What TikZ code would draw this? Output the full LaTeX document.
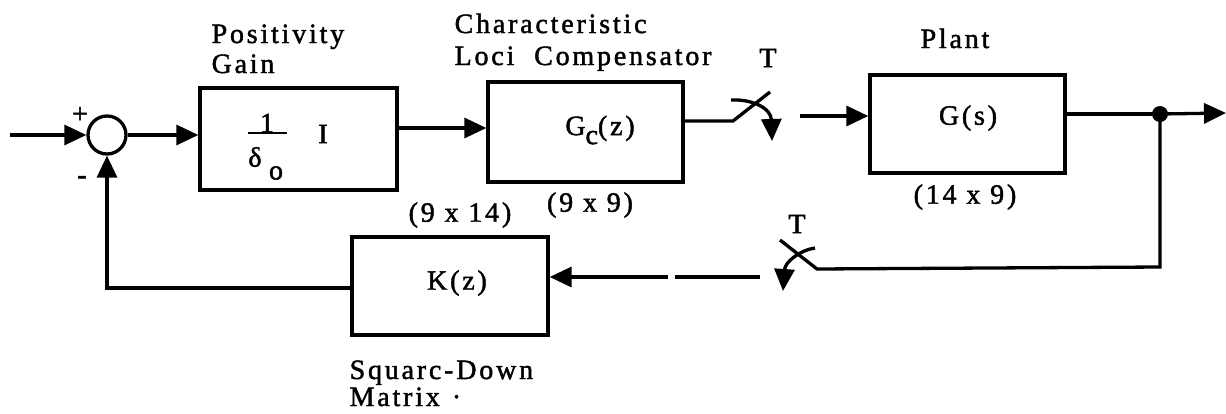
\documentclass[tikz,border=0pt]{standalone}
\usepackage{fontspec}
\setmainfont{Liberation Serif}[LetterSpace=10,FakeBold=1.6]
\usetikzlibrary{arrows.meta}
\begin{document}
\begin{tikzpicture}[x=1pt,y=-1pt,line width=3.3pt,
  every node/.style={font=\fontsize{28}{31}\selectfont,inner sep=0pt},
  blk/.style={draw,rectangle,line width=3.3pt},
  tip/.style={-{Triangle[length=22pt,width=20pt]}},
  lbl/.style={anchor=base west}]
\useasboundingbox (0,0) rectangle (1226,413);

% blocks
\node[draw,circle,minimum size=38pt] (sum) at (107,135) {};
\node[blk,minimum width=197pt,minimum height=102pt] (b1) at (298.5,139) {};
\node[blk,minimum width=195pt,minimum height=100pt] (b2) at (585.5,132) {};
\node[blk,minimum width=195pt,minimum height=98pt] (pl) at (967.5,124) {};
\node[blk,minimum width=196pt,minimum height=98pt] (kz) at (450,286) {};

% block contents
\node (one) at (267,123) {1};
\draw[line width=2.4pt] (248,133) -- (287,133);
\node (dl) at (255,157) {δ};
\node (dlo) at (276,173) {o};
\node (id) at (323,134) {I};
\node (gc) at (600,130) {G\raisebox{-9pt}{c}(z)};
\node (gs) at (968,118) {G(s)};
\node (kzt) at (457,283) {K(z)};

% labels
\node[lbl] (l1) at (210,43) {Positivity};
\node[lbl] (l2) at (210,73) {Gain};
\node[lbl] (l3) at (453,33) {Characteristic};
\node[lbl] (l4) at (453,65) {Loci\hspace{10pt} Compensator};
\node (t1) at (768,58) {T};
\node[anchor=base] (l5) at (955,48) {Plant};
\node (l6) at (590,205) {(9 x 9)};
\node (l7) at (965,197) {(14 x 9)};
\node (l8) at (460,215) {(9 x 14)};
\node (t2) at (797,224) {T};
\node[lbl] (l9) at (348,379) {Squarc-Down};
\node[lbl] (l10) at (348,406) {Matrix\hspace{12pt}·};
\node (plus) at (80,115) {+};
\node (minus) at (82,180) {-};

% coordinates
\coordinate (in) at (10,135);
\coordinate (r1) at (0,128);
\coordinate (s1a) at (733,121);
\coordinate (s1b) at (770,92);
\coordinate (s1c) at (731,100);
\coordinate (s1d) at (772,141);
\coordinate (s1o) at (800,116);
\coordinate (jn) at (1160,114);
\coordinate (out) at (1226,113);
\coordinate (fb1) at (1160,267);
\coordinate (s2a) at (817,269);
\coordinate (s2b) at (780,240);
\coordinate (s2c) at (815,248);
\coordinate (s2d) at (783,291);
\coordinate (s2o) at (760,277);
\coordinate (gapa) at (675,277);
\coordinate (gapb) at (668,277);
\coordinate (fl) at (107,288);

% forward path
\draw[tip] (in) -- (sum.west);
\draw[tip] (sum.east) -- (b1.west |- sum.east);
\draw[tip] (b1.east |- r1) -- (b2.west |- r1);
\draw (b2.east |- s1a) -- (s1a) -- (s1b);
\draw[tip] (s1c) .. controls (752,99) and (771,108) .. (s1d);
\draw[tip] (s1o) -- (pl.west |- s1o);
\draw (pl.east |- jn) -- (jn);
\draw[tip] (jn) -- (out);
\fill (jn) circle[radius=8pt];

% feedback path
\draw (jn) -- (fb1) -- (s2a) -- (s2b);
\draw[tip] (s2c) .. controls (800,250) and (785,262) .. (s2d);
\draw (s2o) -- (gapa);
\draw[tip] (gapb) -- (kz.east |- gapb);
\draw[tip] (kz.west |- fl) -- (fl) -- (sum.south);
\end{tikzpicture}
\end{document}
